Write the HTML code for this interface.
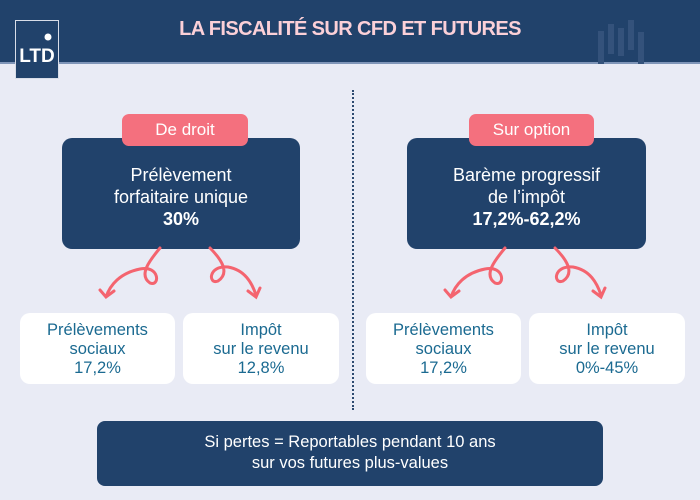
<!DOCTYPE html>
<html><head><meta charset="utf-8"><style>
body{margin:0;width:700px;height:500px;background:#e9ebf5;font-family:"Liberation Sans",sans-serif;position:relative;overflow:hidden}
.a{position:absolute}
.hdr{left:0;top:0;width:700px;height:62px;background:#21426b;border-bottom:2px solid #7f95b8}
.logo{left:15px;top:20px;width:44px;height:59px;background:#21426b;border:1px solid #d8dde8;box-sizing:border-box;color:#fff;font-weight:bold;font-size:19px;text-align:center;line-height:72px}
.title{left:0;width:700px;top:18px;text-align:center;color:#fbd0d8;font-weight:bold;font-size:20px;letter-spacing:-0.6px}
.pill{background:#f4707e;color:#fff;font-size:17px;text-align:center;line-height:32px;border-radius:7px;height:32px;top:114px}
.dark{background:#21426b;color:#fff;border-radius:10px;text-align:center;font-size:18px;line-height:22px;box-sizing:border-box}
.w{background:#fff;border-radius:10px;top:313px;height:71px;color:#1b6a91;font-size:16.5px;line-height:19px;text-align:center;padding-top:8px;box-sizing:border-box}
</style></head><body>
<div class="a hdr"></div>
<svg class="a" style="left:596px;top:14px" width="70" height="50"><g fill="#34527b"><rect x="2" y="17" width="6" height="33"/><rect x="12" y="10" width="6" height="30"/><rect x="22" y="14" width="6" height="28"/><rect x="32" y="6" width="6" height="30"/><rect x="42" y="18" width="6" height="32"/></g></svg>
<div class="a logo">LTD</div>
<svg class="a" style="left:40px;top:28px" width="20" height="20"><circle cx="8" cy="9" r="3.5" fill="#fff"/></svg>
<div class="a title">LA FISCALITÉ SUR CFD ET FUTURES</div>
<div class="a" style="left:352px;top:90px;height:320px;border-left:2px dotted #2d4a70"></div>
<div class="a dark" style="left:62px;top:138px;width:238px;height:111px;padding-top:26px">Prélèvement<br>forfaitaire unique<br><b>30%</b></div>
<div class="a pill" style="left:122px;width:126px">De droit</div>
<div class="a dark" style="left:407px;top:138px;width:239px;height:111px;padding-top:26px">Barème progressif<br>de l’impôt<br><b>17,2%-62,2%</b></div>
<div class="a pill" style="left:469px;width:125px">Sur option</div>
<svg class="a" style="left:0;top:245px" width="700" height="60" fill="none" stroke="#f4646f" stroke-width="3" stroke-linecap="round">
<path d="M160 3 C150 15,138 30,150 38 C160 42,160 20,140 24 C120 28,110 40,106 52 M100 45 L106 52 L114 46"/>
<path d="M210 3 C222 15,230 28,218 36 C208 40,208 20,228 22 C245 25,252 38,256 50 M248 46 L256 52 L260 43"/>
<path d="M505 3 C495 15,483 30,495 38 C505 42,505 20,485 24 C465 28,455 40,451 52 M445 45 L451 52 L459 46"/>
<path d="M555 3 C567 15,575 28,563 36 C553 40,553 20,573 22 C590 25,597 38,601 50 M593 46 L601 52 L605 43"/>
</svg>
<div class="a w" style="left:20px;width:155px">Prélèvements<br>sociaux<br>17,2%</div>
<div class="a w" style="left:183px;width:156px">Impôt<br>sur le revenu<br>12,8%</div>
<div class="a w" style="left:366px;width:155px">Prélèvements<br>sociaux<br>17,2%</div>
<div class="a w" style="left:529px;width:156px">Impôt<br>sur le revenu<br>0%-45%</div>
<div class="a dark" style="left:97px;top:421px;width:506px;height:65px;padding-top:11px;font-size:16.5px;line-height:21px;border-radius:8px">Si pertes = Reportables pendant 10 ans<br>sur vos futures plus-values</div>
</body></html>
